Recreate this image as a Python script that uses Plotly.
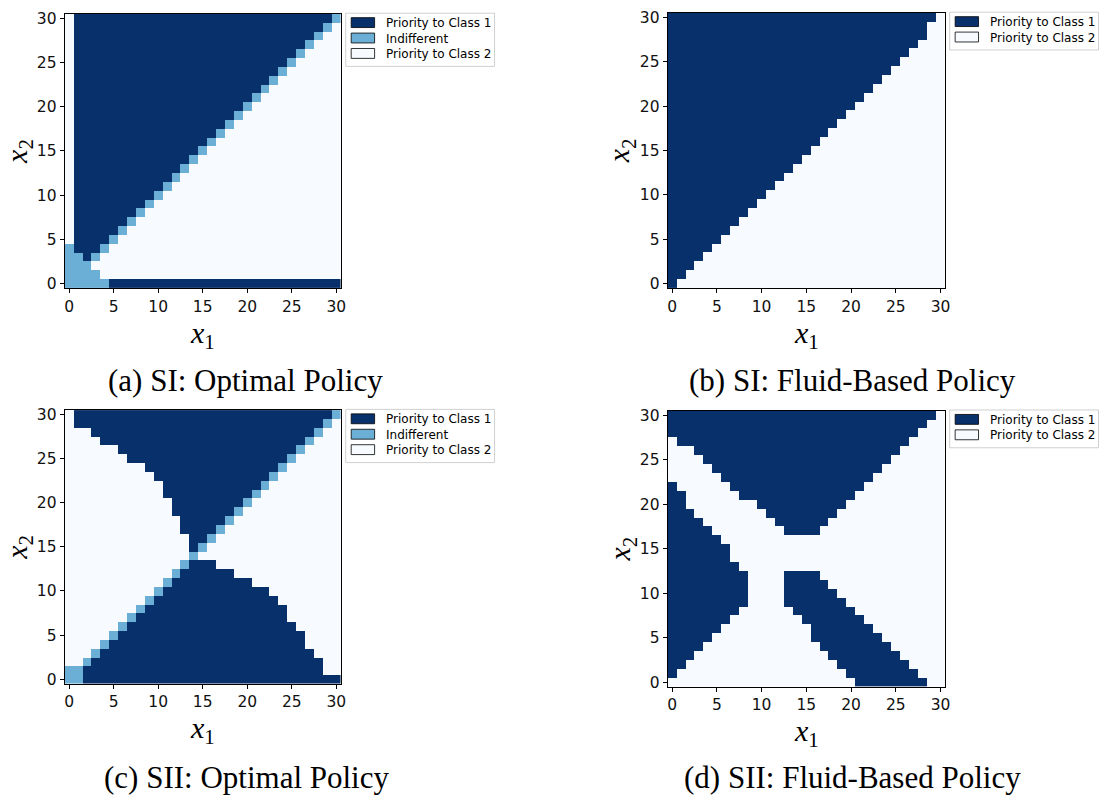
import plotly.graph_objects as go

W, H = 1103, 803

# ---------------- data ----------------
X1_VALUES = list(range(31))
X2_VALUES = list(range(31))
TICK_VALUES = [0, 5, 10, 15, 20, 25, 30]
TICK_LABELS = ["0", "5", "10", "15", "20", "25", "30"]

CLASS_CODES = {"#": 0, "+": 1, ".": 2}
CLASS_NAMES = ["Priority to Class 1", "Indifferent", "Priority to Class 2"]
CLASS_COLORS = ["#08306b", "#6baed6", "#f7fbff"]

# Each string is one row of the policy grid, from x2 = 30 (top) down to x2 = 0.
# Characters are x1 = 0..30 ('#' class 1, '+' indifferent, '.' class 2);
# spaces only group the columns in fives for readability.
SI_OPTIMAL = [
    ".#### ##### ##### ##### ##### ##### +",
    ".#### ##### ##### ##### ##### ####+ .",
    ".#### ##### ##### ##### ##### ###+. .",
    ".#### ##### ##### ##### ##### ##+.. .",
    ".#### ##### ##### ##### ##### #+... .",
    ".#### ##### ##### ##### ##### +.... .",
    ".#### ##### ##### ##### ####+ ..... .",
    ".#### ##### ##### ##### ###+. ..... .",
    ".#### ##### ##### ##### ##+.. ..... .",
    ".#### ##### ##### ##### #+... ..... .",
    ".#### ##### ##### ##### +.... ..... .",
    ".#### ##### ##### ####+ ..... ..... .",
    ".#### ##### ##### ###+. ..... ..... .",
    ".#### ##### ##### ##+.. ..... ..... .",
    ".#### ##### ##### #+... ..... ..... .",
    ".#### ##### ##### +.... ..... ..... .",
    ".#### ##### ####+ ..... ..... ..... .",
    ".#### ##### ###+. ..... ..... ..... .",
    ".#### ##### ##+.. ..... ..... ..... .",
    ".#### ##### #+... ..... ..... ..... .",
    ".#### ##### +.... ..... ..... ..... .",
    ".#### ####+ ..... ..... ..... ..... .",
    ".#### ###+. ..... ..... ..... ..... .",
    ".#### ##+.. ..... ..... ..... ..... .",
    ".#### #+... ..... ..... ..... ..... .",
    ".#### +.... ..... ..... ..... ..... .",
    "+###+ ..... ..... ..... ..... ..... .",
    "++#+. ..... ..... ..... ..... ..... .",
    "+++.. ..... ..... ..... ..... ..... .",
    "++++. ..... ..... ..... ..... ..... .",
    "+++++ ##### ##### ##### ##### ##### #",
]

SI_FLUID = [
    "##### ##### ##### ##### ##### ##### .",
    "##### ##### ##### ##### ##### ####. .",
    "##### ##### ##### ##### ##### ####. .",
    "##### ##### ##### ##### ##### ###.. .",
    "##### ##### ##### ##### ##### ##... .",
    "##### ##### ##### ##### ##### #.... .",
    "##### ##### ##### ##### ##### ..... .",
    "##### ##### ##### ##### ####. ..... .",
    "##### ##### ##### ##### ###.. ..... .",
    "##### ##### ##### ##### ##... ..... .",
    "##### ##### ##### ##### #.... ..... .",
    "##### ##### ##### ##### ..... ..... .",
    "##### ##### ##### ####. ..... ..... .",
    "##### ##### ##### ###.. ..... ..... .",
    "##### ##### ##### ##... ..... ..... .",
    "##### ##### ##### #.... ..... ..... .",
    "##### ##### ##### ..... ..... ..... .",
    "##### ##### ####. ..... ..... ..... .",
    "##### ##### ###.. ..... ..... ..... .",
    "##### ##### ##... ..... ..... ..... .",
    "##### ##### #.... ..... ..... ..... .",
    "##### ##### ..... ..... ..... ..... .",
    "##### ####. ..... ..... ..... ..... .",
    "##### ###.. ..... ..... ..... ..... .",
    "##### ##... ..... ..... ..... ..... .",
    "##### #.... ..... ..... ..... ..... .",
    "##### ..... ..... ..... ..... ..... .",
    "####. ..... ..... ..... ..... ..... .",
    "###.. ..... ..... ..... ..... ..... .",
    "##... ..... ..... ..... ..... ..... .",
    "#.... ..... ..... ..... ..... ..... .",
]

SII_OPTIMAL = [
    ".#### ##### ##### ##### ##### ##### +",
    ".#### ##### ##### ##### ##### ####+ .",
    "...## ##### ##### ##### ##### ###+. .",
    "....# ##### ##### ##### ##### ##+.. .",
    "..... .#### ##### ##### ##### #+... .",
    "..... ..### ##### ##### ##### +.... .",
    "..... ....# ##### ##### ####+ ..... .",
    "..... ..... ##### ##### ###+. ..... .",
    "..... ..... .#### ##### ##+.. ..... .",
    "..... ..... .#### ##### #+... ..... .",
    "..... ..... ..### ##### +.... ..... .",
    "..... ..... ..### ####+ ..... ..... .",
    "..... ..... ...## ###+. ..... ..... .",
    "..... ..... ...## ##+.. ..... ..... .",
    "..... ..... ....# #+... ..... ..... .",
    "..... ..... ....# +.... ..... ..... .",
    "..... ..... ....+ ..... ..... ..... .",
    "..... ..... ...+# ##... ..... ..... .",
    "..... ..... ..+## ####. ..... ..... .",
    "..... ..... .+### ##### #.... ..... .",
    "..... ..... +#### ##### ###.. ..... .",
    "..... ....+ ##### ##### ####. ..... .",
    "..... ...+# ##### ##### ##### ..... .",
    "..... ..+## ##### ##### ##### ..... .",
    "..... .+### ##### ##### ##### #.... .",
    "..... +#### ##### ##### ##### ##... .",
    "....+ ##### ##### ##### ##### ##... .",
    "...+# ##### ##### ##### ##### ###.. .",
    "..+## ##### ##### ##### ##### ####. .",
    "++### ##### ##### ##### ##### ####. .",
    "++### ##### ##### ##### ##### ##### #",
]

SII_FLUID = [
    "##### ##### ##### ##### ##### ##### .",
    "##### ##### ##### ##### ##### ####. .",
    "##### ##### ##### ##### ##### ###.. .",
    ".#### ##### ##### ##### ##### ##... .",
    "...## ##### ##### ##### ##### #.... .",
    "....# ##### ##### ##### ##### ..... .",
    "..... ##### ##### ##### ####. ..... .",
    "..... .#### ##### ##### ###.. ..... .",
    "#.... ..### ##### ##### ##... ..... .",
    "##... ...## ##### ##### #.... ..... .",
    "##... ..... ##### ##### ..... ..... .",
    "###.. ..... .#### ####. ..... ..... .",
    "####. ..... ..### ###.. ..... ..... .",
    "##### ..... ...## ##... ..... ..... .",
    "##### #.... ..... ..... ..... ..... .",
    "##### ##... ..... ..... ..... ..... .",
    "##### ##... ..... ..... ..... ..... .",
    "##### ###.. ..... ..... ..... ..... .",
    "##### ####. ...## ##... ..... ..... .",
    "##### ####. ...## ###.. ..... ..... .",
    "##### ####. ...## ####. ..... ..... .",
    "##### ####. ...## ##### ..... ..... .",
    "##### ###.. ....# ##### #.... ..... .",
    "##### ##... ..... ##### ##... ..... .",
    "##### #.... ..... .#### ###.. ..... .",
    "##### ..... ..... .#### ####. ..... .",
    "####. ..... ..... ..### ##### ..... .",
    "###.. ..... ..... ...## ##### #.... .",
    "##... ..... ..... ....# ##### ##... .",
    "#.... ..... ..... ..... ##### ###.. .",
    "..... ..... ..... ..... .#### ####. .",
]

CAPTIONS = [
    "(a) SI: Optimal Policy",
    "(b) SI: Fluid-Based Policy",
    "(c) SII: Optimal Policy",
    "(d) SII: Fluid-Based Policy",
]
LEGEND_CLASSES = [[0, 1, 2], [0, 2], [0, 1, 2], [0, 2]]
GRIDS = [SI_OPTIMAL, SI_FLUID, SII_OPTIMAL, SII_FLUID]

# ---------------- layout (pixels) ----------------
AXES_PX = [  # left, top, right, bottom
    (65.0, 10.0, 342.3, 287.3),
    (670.7, 9.0, 949.3, 287.3),
    (65.0, 410.7, 342.3, 687.3),
    (670.7, 411.3, 949.3, 690.3),
]
LEGEND_PX = [(347.3, 9.3), (954.0, 8.3), (347.3, 410.0), (954.0, 410.6)]
CAPTION_PX = [(247.0, 381.0), (856.0, 381.0), (247.5, 782.0), (856.0, 782.0)]


def px_x(x):
    return x / W


def px_y(y):
    return 1 - y / H


def decode(rows):
    z = []
    for row in reversed(rows):
        cells = row.replace(" ", "")
        assert len(cells) == 31, row
        z.append([CLASS_CODES[c] for c in cells])
    assert len(z) == 31
    return z


colorscale = [
    [0.0, CLASS_COLORS[0]], [1 / 3, CLASS_COLORS[0]],
    [1 / 3, CLASS_COLORS[1]], [2 / 3, CLASS_COLORS[1]],
    [2 / 3, CLASS_COLORS[2]], [1.0, CLASS_COLORS[2]],
]

fig = go.Figure()
annotations = []
shapes = []
serif = "Liberation Serif, Times New Roman, serif"
sans = "DejaVu Sans, sans-serif"

for i, rows in enumerate(GRIDS):
    n = "" if i == 0 else str(i + 1)
    xa, ya = "x" + n, "y" + n
    fig.add_trace(go.Heatmap(
        x=X1_VALUES, y=X2_VALUES, z=decode(rows),
        zmin=-0.5, zmax=2.5, colorscale=colorscale, showscale=False,
        xaxis=xa, yaxis=ya, hoverinfo="skip",
    ))
    l, t, r, b = AXES_PX[i]
    axis_common = dict(
        range=[-0.5, 30.5], tickvals=TICK_VALUES, ticktext=TICK_LABELS,
        ticks="outside", ticklen=4, tickwidth=1, tickcolor="black",
        showline=True, linecolor="black", linewidth=1, mirror=True,
        showgrid=False, zeroline=False, fixedrange=True,
        tickfont=dict(family=sans, size=15.5, color="#111111"),
    )
    fig.layout["xaxis" + n] = dict(axis_common, domain=[px_x(l), px_x(r)], anchor=ya)
    fig.layout["yaxis" + n] = dict(axis_common, domain=[px_y(b), px_y(t)], anchor=xa)

    # axis titles
    annotations.append(dict(
        text="<i>x</i><sub>1</sub>", x=px_x((l + r) / 2), y=px_y(b + 47),
        xref="paper", yref="paper", xanchor="center", yanchor="middle",
        showarrow=False, font=dict(family=serif, size=30, color="black"),
    ))
    annotations.append(dict(
        text="<i>x</i><sub>2</sub>", x=px_x(l - 46), y=px_y((t + b) / 2),
        xref="paper", yref="paper", xanchor="center", yanchor="middle",
        textangle=-90, showarrow=False,
        font=dict(family=serif, size=30, color="black"),
    ))
    # caption
    cx, cy = CAPTION_PX[i]
    annotations.append(dict(
        text=CAPTIONS[i], x=px_x(cx), y=px_y(cy), xref="paper", yref="paper",
        xanchor="center", yanchor="middle", showarrow=False,
        font=dict(family=serif, size=31, color="black"),
    ))
    # legend (drawn like matplotlib's patch legend)
    lx, ly = LEGEND_PX[i]
    classes = LEGEND_CLASSES[i]
    spacing = 15.6
    box_h = len(classes) * spacing + 7
    shapes.append(dict(
        type="rect", xref="paper", yref="paper",
        x0=px_x(lx), x1=px_x(lx + 149.5), y0=px_y(ly), y1=px_y(ly + box_h),
        line=dict(color="#d0d0d0", width=1), fillcolor="white",
    ))
    for k, c in enumerate(classes):
        ey = ly + 10 + k * spacing
        shapes.append(dict(
            type="rect", xref="paper", yref="paper",
            x0=px_x(lx + 5.5), x1=px_x(lx + 29), y0=px_y(ey - 5.5), y1=px_y(ey + 4.5),
            line=dict(color="black", width=0.8), fillcolor=CLASS_COLORS[c],
        ))
        annotations.append(dict(
            text=CLASS_NAMES[c], x=px_x(lx + 38.5), y=px_y(ey),
            xref="paper", yref="paper", xanchor="left", yanchor="middle",
            showarrow=False, font=dict(family=sans, size=12, color="black"),
        ))

fig.update_layout(
    width=W, height=H, margin=dict(l=0, r=0, t=0, b=0),
    paper_bgcolor="white", plot_bgcolor="white", showlegend=False,
    annotations=annotations, shapes=shapes,
)

fig.write_html("out.html")
